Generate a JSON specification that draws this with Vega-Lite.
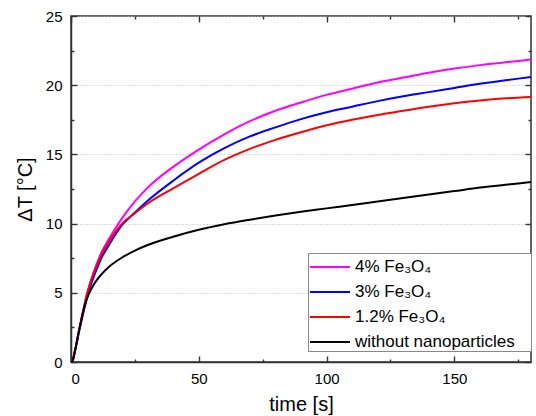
{
  "$schema": "https://vega.github.io/schema/vega-lite/v6.json",
  "width": 460,
  "height": 346,
  "autosize": {"type": "none"},
  "padding": {"left": 71, "top": 16, "right": 5, "bottom": 54},
  "config": {
    "view": {"stroke": "#333333", "strokeWidth": 1.5},
    "font": "Liberation Sans",
    "axis": {
      "labelFont": "Liberation Sans",
      "labelFontSize": 15,
      "labelColor": "#000000",
      "titleFont": "Liberation Sans",
      "titleFontSize": 20,
      "titleFontWeight": "normal",
      "titleColor": "#000000",
      "domainColor": "#333333",
      "domainWidth": 1.5,
      "tickWidth": 1.4
    }
  },
  "datasets": {
    "curves": [
      {"t": 0, "dT": 0, "s": "4% Fe₃O₄"},
      {"t": 0.5, "dT": 0, "s": "4% Fe₃O₄"},
      {"t": 1, "dT": 0.35, "s": "4% Fe₃O₄"},
      {"t": 2, "dT": 1.2, "s": "4% Fe₃O₄"},
      {"t": 3, "dT": 2.15, "s": "4% Fe₃O₄"},
      {"t": 4, "dT": 3.05, "s": "4% Fe₃O₄"},
      {"t": 5, "dT": 3.9, "s": "4% Fe₃O₄"},
      {"t": 6, "dT": 4.75, "s": "4% Fe₃O₄"},
      {"t": 8, "dT": 6.0, "s": "4% Fe₃O₄"},
      {"t": 10, "dT": 7.05, "s": "4% Fe₃O₄"},
      {"t": 12, "dT": 7.95, "s": "4% Fe₃O₄"},
      {"t": 15, "dT": 8.95, "s": "4% Fe₃O₄"},
      {"t": 20, "dT": 10.4, "s": "4% Fe₃O₄"},
      {"t": 25, "dT": 11.6, "s": "4% Fe₃O₄"},
      {"t": 30, "dT": 12.6, "s": "4% Fe₃O₄"},
      {"t": 40, "dT": 14.1, "s": "4% Fe₃O₄"},
      {"t": 50, "dT": 15.35, "s": "4% Fe₃O₄"},
      {"t": 60, "dT": 16.45, "s": "4% Fe₃O₄"},
      {"t": 70, "dT": 17.4, "s": "4% Fe₃O₄"},
      {"t": 80, "dT": 18.15, "s": "4% Fe₃O₄"},
      {"t": 90, "dT": 18.75, "s": "4% Fe₃O₄"},
      {"t": 100, "dT": 19.3, "s": "4% Fe₃O₄"},
      {"t": 110, "dT": 19.75, "s": "4% Fe₃O₄"},
      {"t": 120, "dT": 20.2, "s": "4% Fe₃O₄"},
      {"t": 130, "dT": 20.55, "s": "4% Fe₃O₄"},
      {"t": 140, "dT": 20.9, "s": "4% Fe₃O₄"},
      {"t": 150, "dT": 21.2, "s": "4% Fe₃O₄"},
      {"t": 160, "dT": 21.45, "s": "4% Fe₃O₄"},
      {"t": 170, "dT": 21.65, "s": "4% Fe₃O₄"},
      {"t": 180, "dT": 21.85, "s": "4% Fe₃O₄"},

      {"t": 0, "dT": 0, "s": "3% Fe₃O₄"},
      {"t": 0.5, "dT": 0, "s": "3% Fe₃O₄"},
      {"t": 1, "dT": 0.33, "s": "3% Fe₃O₄"},
      {"t": 2, "dT": 1.15, "s": "3% Fe₃O₄"},
      {"t": 3, "dT": 2.05, "s": "3% Fe₃O₄"},
      {"t": 4, "dT": 2.9, "s": "3% Fe₃O₄"},
      {"t": 5, "dT": 3.7, "s": "3% Fe₃O₄"},
      {"t": 6, "dT": 4.45, "s": "3% Fe₃O₄"},
      {"t": 8, "dT": 5.7, "s": "3% Fe₃O₄"},
      {"t": 10, "dT": 6.7, "s": "3% Fe₃O₄"},
      {"t": 12, "dT": 7.55, "s": "3% Fe₃O₄"},
      {"t": 15, "dT": 8.5, "s": "3% Fe₃O₄"},
      {"t": 20, "dT": 9.9, "s": "3% Fe₃O₄"},
      {"t": 25, "dT": 10.8, "s": "3% Fe₃O₄"},
      {"t": 30, "dT": 11.65, "s": "3% Fe₃O₄"},
      {"t": 40, "dT": 13.1, "s": "3% Fe₃O₄"},
      {"t": 50, "dT": 14.4, "s": "3% Fe₃O₄"},
      {"t": 60, "dT": 15.45, "s": "3% Fe₃O₄"},
      {"t": 70, "dT": 16.3, "s": "3% Fe₃O₄"},
      {"t": 80, "dT": 16.95, "s": "3% Fe₃O₄"},
      {"t": 90, "dT": 17.55, "s": "3% Fe₃O₄"},
      {"t": 100, "dT": 18.05, "s": "3% Fe₃O₄"},
      {"t": 110, "dT": 18.45, "s": "3% Fe₃O₄"},
      {"t": 120, "dT": 18.85, "s": "3% Fe₃O₄"},
      {"t": 130, "dT": 19.2, "s": "3% Fe₃O₄"},
      {"t": 140, "dT": 19.5, "s": "3% Fe₃O₄"},
      {"t": 150, "dT": 19.8, "s": "3% Fe₃O₄"},
      {"t": 160, "dT": 20.1, "s": "3% Fe₃O₄"},
      {"t": 170, "dT": 20.35, "s": "3% Fe₃O₄"},
      {"t": 180, "dT": 20.6, "s": "3% Fe₃O₄"},

      {"t": 0, "dT": 0, "s": "1.2% Fe₃O₄"},
      {"t": 0.5, "dT": 0, "s": "1.2% Fe₃O₄"},
      {"t": 1, "dT": 0.35, "s": "1.2% Fe₃O₄"},
      {"t": 2, "dT": 1.2, "s": "1.2% Fe₃O₄"},
      {"t": 3, "dT": 2.15, "s": "1.2% Fe₃O₄"},
      {"t": 4, "dT": 3.05, "s": "1.2% Fe₃O₄"},
      {"t": 5, "dT": 3.9, "s": "1.2% Fe₃O₄"},
      {"t": 6, "dT": 4.7, "s": "1.2% Fe₃O₄"},
      {"t": 8, "dT": 5.95, "s": "1.2% Fe₃O₄"},
      {"t": 10, "dT": 6.95, "s": "1.2% Fe₃O₄"},
      {"t": 12, "dT": 7.8, "s": "1.2% Fe₃O₄"},
      {"t": 15, "dT": 8.75, "s": "1.2% Fe₃O₄"},
      {"t": 20, "dT": 10.0, "s": "1.2% Fe₃O₄"},
      {"t": 25, "dT": 10.75, "s": "1.2% Fe₃O₄"},
      {"t": 30, "dT": 11.45, "s": "1.2% Fe₃O₄"},
      {"t": 40, "dT": 12.55, "s": "1.2% Fe₃O₄"},
      {"t": 50, "dT": 13.6, "s": "1.2% Fe₃O₄"},
      {"t": 60, "dT": 14.6, "s": "1.2% Fe₃O₄"},
      {"t": 70, "dT": 15.4, "s": "1.2% Fe₃O₄"},
      {"t": 80, "dT": 16.05, "s": "1.2% Fe₃O₄"},
      {"t": 90, "dT": 16.6, "s": "1.2% Fe₃O₄"},
      {"t": 100, "dT": 17.1, "s": "1.2% Fe₃O₄"},
      {"t": 110, "dT": 17.5, "s": "1.2% Fe₃O₄"},
      {"t": 120, "dT": 17.85, "s": "1.2% Fe₃O₄"},
      {"t": 130, "dT": 18.15, "s": "1.2% Fe₃O₄"},
      {"t": 140, "dT": 18.45, "s": "1.2% Fe₃O₄"},
      {"t": 150, "dT": 18.7, "s": "1.2% Fe₃O₄"},
      {"t": 160, "dT": 18.9, "s": "1.2% Fe₃O₄"},
      {"t": 170, "dT": 19.05, "s": "1.2% Fe₃O₄"},
      {"t": 180, "dT": 19.15, "s": "1.2% Fe₃O₄"},

      {"t": 0, "dT": 0, "s": "without nanoparticles"},
      {"t": 0.5, "dT": 0, "s": "without nanoparticles"},
      {"t": 1, "dT": 0.35, "s": "without nanoparticles"},
      {"t": 2, "dT": 1.2, "s": "without nanoparticles"},
      {"t": 3, "dT": 2.15, "s": "without nanoparticles"},
      {"t": 4, "dT": 3.0, "s": "without nanoparticles"},
      {"t": 5, "dT": 3.8, "s": "without nanoparticles"},
      {"t": 6, "dT": 4.45, "s": "without nanoparticles"},
      {"t": 8, "dT": 5.3, "s": "without nanoparticles"},
      {"t": 10, "dT": 5.9, "s": "without nanoparticles"},
      {"t": 12, "dT": 6.35, "s": "without nanoparticles"},
      {"t": 15, "dT": 6.9, "s": "without nanoparticles"},
      {"t": 20, "dT": 7.55, "s": "without nanoparticles"},
      {"t": 25, "dT": 8.05, "s": "without nanoparticles"},
      {"t": 30, "dT": 8.45, "s": "without nanoparticles"},
      {"t": 40, "dT": 9.05, "s": "without nanoparticles"},
      {"t": 50, "dT": 9.55, "s": "without nanoparticles"},
      {"t": 60, "dT": 9.95, "s": "without nanoparticles"},
      {"t": 70, "dT": 10.28, "s": "without nanoparticles"},
      {"t": 80, "dT": 10.58, "s": "without nanoparticles"},
      {"t": 90, "dT": 10.85, "s": "without nanoparticles"},
      {"t": 100, "dT": 11.1, "s": "without nanoparticles"},
      {"t": 110, "dT": 11.35, "s": "without nanoparticles"},
      {"t": 120, "dT": 11.6, "s": "without nanoparticles"},
      {"t": 130, "dT": 11.85, "s": "without nanoparticles"},
      {"t": 140, "dT": 12.1, "s": "without nanoparticles"},
      {"t": 150, "dT": 12.35, "s": "without nanoparticles"},
      {"t": 160, "dT": 12.6, "s": "without nanoparticles"},
      {"t": 170, "dT": 12.8, "s": "without nanoparticles"},
      {"t": 180, "dT": 13.0, "s": "without nanoparticles"}
    ]
  },
  "data": {"name": "curves"},
  "layer": [
    {
      "mark": {"type": "line", "strokeWidth": 2, "interpolate": "monotone"},
      "encoding": {
        "x": {
          "field": "t", "type": "quantitative",
          "scale": {"domain": [0, 180], "nice": false},
          "axis": {
            "orient": "bottom",
            "title": "time [s]",
            "values": [0, 50, 100, 150],
            "ticks": false,
            "labelPadding": 9,
            "titlePadding": 8,
            "grid": false
          }
        },
        "y": {
          "field": "dT", "type": "quantitative",
          "scale": {"domain": [0, 25], "nice": false},
          "axis": {
            "orient": "left",
            "title": "ΔT [°C]",
            "values": [0, 5, 10, 15, 20, 25],
            "ticks": false,
            "labelPadding": 9,
            "titlePadding": 10,
            "grid": true,
            "gridColor": "#bbbbbb",
            "gridDash": [1, 2],
            "gridWidth": 1
          }
        },
        "color": {
          "field": "s", "type": "nominal",
          "scale": {
            "domain": ["4% Fe₃O₄", "3% Fe₃O₄", "1.2% Fe₃O₄", "without nanoparticles"],
            "range": ["#ff00ff", "#0000ff", "#ff0000", "#000000"]
          },
          "legend": {
            "orient": "none",
            "legendX": 237,
            "legendY": 237,
            "title": "ii",
            "titleOrient": "right",
            "titleOpacity": 0,
            "titleFontSize": 10,
            "titlePadding": 9,
            "symbolType": "M-1,0H2.333",
            "symbolSize": 576,
            "symbolStrokeWidth": 2,
            "labelOffset": 20,
            "labelFont": "Liberation Sans",
            "labelFontSize": 17,
            "labelColor": "#000000",
            "labelLimit": 300,
            "strokeColor": "#888888",
            "fillColor": "#ffffff",
            "padding": 1,
            "rowPadding": 4
          }
        }
      }
    },
    {
      "mark": {"type": "line", "opacity": 0},
      "encoding": {
        "detail": {"field": "s"},
        "x": {
          "field": "t", "type": "quantitative",
          "axis": {
            "orient": "top", "offset": -346, "title": null, "labels": false, "domain": false, "grid": false,
            "tickColor": "#333333", "tickSize": 6,
            "values": [0, 50, 100, 150]
          }
        },
        "y": {
          "field": "dT", "type": "quantitative",
          "axis": {
            "orient": "right", "offset": -460, "title": null, "labels": false, "domain": false, "grid": false,
            "tickColor": "#333333", "tickSize": 6,
            "values": [0, 5, 10, 15, 20, 25]
          }
        }
      }
    },
    {
      "mark": {"type": "line", "opacity": 0},
      "encoding": {
        "detail": {"field": "s"},
        "x": {
          "field": "t", "type": "quantitative",
          "axis": {
            "orient": "top", "offset": -346, "title": null, "labels": false, "domain": false, "grid": false,
            "tickColor": "#333333", "tickSize": 3,
            "values": [25, 75, 125, 175]
          }
        },
        "y": {
          "field": "dT", "type": "quantitative",
          "axis": {
            "orient": "right", "offset": -460, "title": null, "labels": false, "domain": false, "grid": false,
            "tickColor": "#333333", "tickSize": 3,
            "values": [2.5, 7.5, 12.5, 17.5, 22.5]
          }
        }
      }
    },
    {
      "mark": {"type": "line", "opacity": 0},
      "encoding": {
        "detail": {"field": "s"},
        "x": {
          "field": "t", "type": "quantitative",
          "axis": {
            "orient": "bottom", "offset": -346, "title": null, "labels": false, "domain": false, "grid": false,
            "tickColor": "#333333", "tickSize": 6,
            "values": [0, 50, 100, 150]
          }
        },
        "y": {
          "field": "dT", "type": "quantitative",
          "axis": {
            "orient": "left", "offset": -460, "title": null, "labels": false, "domain": false, "grid": false,
            "tickColor": "#333333", "tickSize": 6,
            "values": [0, 5, 10, 15, 20, 25]
          }
        }
      }
    },
    {
      "mark": {"type": "line", "opacity": 0},
      "encoding": {
        "detail": {"field": "s"},
        "x": {
          "field": "t", "type": "quantitative",
          "axis": {
            "orient": "bottom", "offset": -346, "title": null, "labels": false, "domain": false, "grid": false,
            "tickColor": "#333333", "tickSize": 3,
            "values": [25, 75, 125, 175]
          }
        },
        "y": {
          "field": "dT", "type": "quantitative",
          "axis": {
            "orient": "left", "offset": -460, "title": null, "labels": false, "domain": false, "grid": false,
            "tickColor": "#333333", "tickSize": 3,
            "values": [2.5, 7.5, 12.5, 17.5, 22.5]
          }
        }
      }
    }
  ],
  "resolve": {"axis": {"x": "independent", "y": "independent"}}
}
